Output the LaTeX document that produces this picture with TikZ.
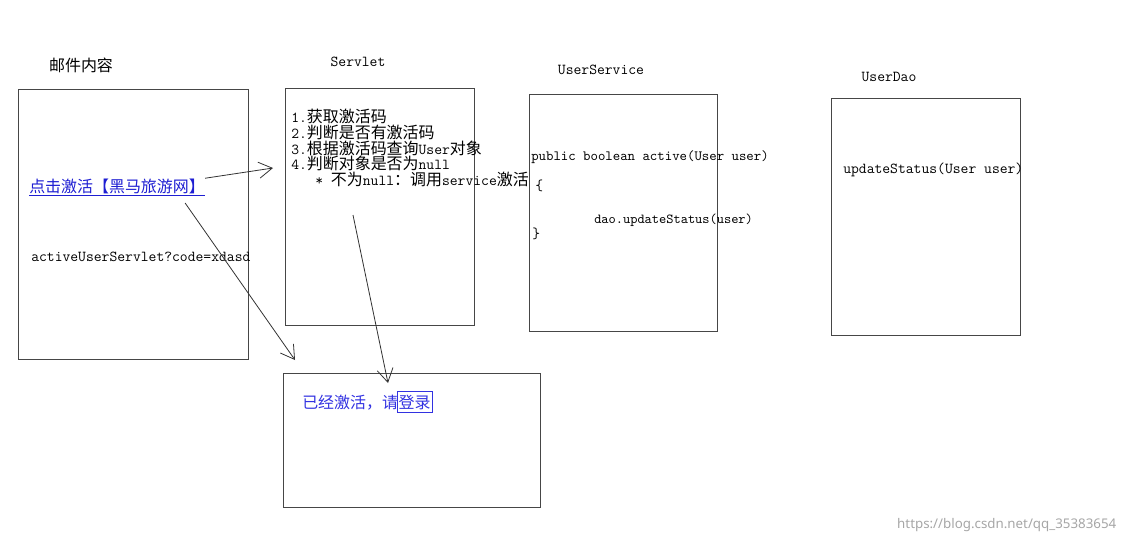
\documentclass[tikz,border=0pt]{standalone}
\usepackage{fontspec}
\newfontfamily\cjk{Noto Sans CJK SC}[Scale=1.05]
\newfontfamily\markfont{Noto Sans}
\usetikzlibrary{positioning, arrows.meta}

\definecolor{linkblue}{RGB}{30,30,210}
\definecolor{doneblue}{RGB}{50,50,225}
\definecolor{boxgray}{RGB}{70,70,70}
\lineskiplimit=-6pt

\tikzset{
  panel/.style={draw=boxgray, line width=1pt, inner sep=0pt, anchor=north west},
  title/.style={font=\ttfamily\fontsize{11.4}{13}\selectfont},
  code/.style={inner sep=0pt, anchor=base west, font=\ttfamily\fontsize{11.4}{13}\selectfont},
  flow/.style={draw=black!80, line width=0.6pt, -{Straight Barb[length=10pt,width=12pt]}},
}

\begin{document}
\begin{tikzpicture}[x=0.75pt,y=-0.75pt]
    \useasboundingbox (0,0) rectangle (1129,544);

    % boxes
    \node[panel, minimum width=172.5pt, minimum height=202.5pt] (mail) at (18,89) {};
    \node[panel, minimum width=141.75pt, minimum height=177.75pt] (servlet) at (285,88) {};
    \node[panel, minimum width=141pt, minimum height=177.75pt] (service) at (529,94) {};
    \node[panel, minimum width=141.75pt, minimum height=177.75pt] (dao) at (831,98) {};
    \node[panel, minimum width=192.75pt, minimum height=100.5pt] (result) at (283,373) {};

    % titles
    \node[title] (mailtitle) at (81,65) {\cjk 邮件内容};
    \node[title] (servlettitle) at (358,62) {Servlet};
    \node[title] (servicetitle) at (601,70) {UserService};
    \node[title] (daotitle) at (889,77) {UserDao};

    % mail content
    \node[code, text=linkblue] (link) at (29,192) {\cjk\underline{点击激活【黑马旅游网】}};
    \node[code] (url) at (31,261) {activeUserServlet?code=xdasd};

    % servlet steps
    \node[code, anchor=north west, align=left, font=\ttfamily\fontsize{11.4}{11.8}\selectfont] (steps) at (291,109)
        {1.{\cjk 获取激活码}\\
         2.{\cjk 判断是否有激活码}\\
         3.{\cjk 根据激活码查询}User{\cjk 对象}\\
         4.{\cjk 判断对象是否为}null\\
         \hspace*{18pt}* {\cjk 不为}null{\cjk ：调用}service{\cjk 激活}};

    % service
    \node[code, font=\ttfamily\fontsize{10.6}{12}\selectfont] (sig) at (531,160) {public boolean active(User user)};
    \node[code] (lbrace) at (535,190) {\{};
    \node[code, font=\ttfamily\fontsize{10.3}{12}\selectfont] (call) at (594,223) {dao.updateStatus(user)};
    \node[code] (rbrace) at (532,238) {\}};

    % dao
    \node[code] (update) at (843,173) {updateStatus(User user)};

    % result page
    \node[code, text=doneblue] (done) at (302,408) {\cjk 已经激活，请};
    \node[code, text=doneblue, draw=doneblue, line width=0.6pt, inner xsep=1pt, inner ysep=2.5pt,
          right=-1pt of done] (login) {\cjk 登录};

    % arrows
    \coordinate (servletin) at (273,168);
    \coordinate (resultin) at (295,360);
    \coordinate (servletout) at (353,215);
    \coordinate (loginin) at (388,383);
    \draw[flow] (link.north east) -- (servletin);
    \draw[flow] ([xshift=-15pt,yshift=-5pt]link.south east) -- (resultin);
    \draw[flow] (servletout) -- (loginin);

    \node[font=\markfont\fontsize{10}{12}\selectfont, text=black!35, anchor=east] (mark) at (1121,525)
        {https://blog.csdn.net/qq\_35383654};
\end{tikzpicture}
\end{document}
